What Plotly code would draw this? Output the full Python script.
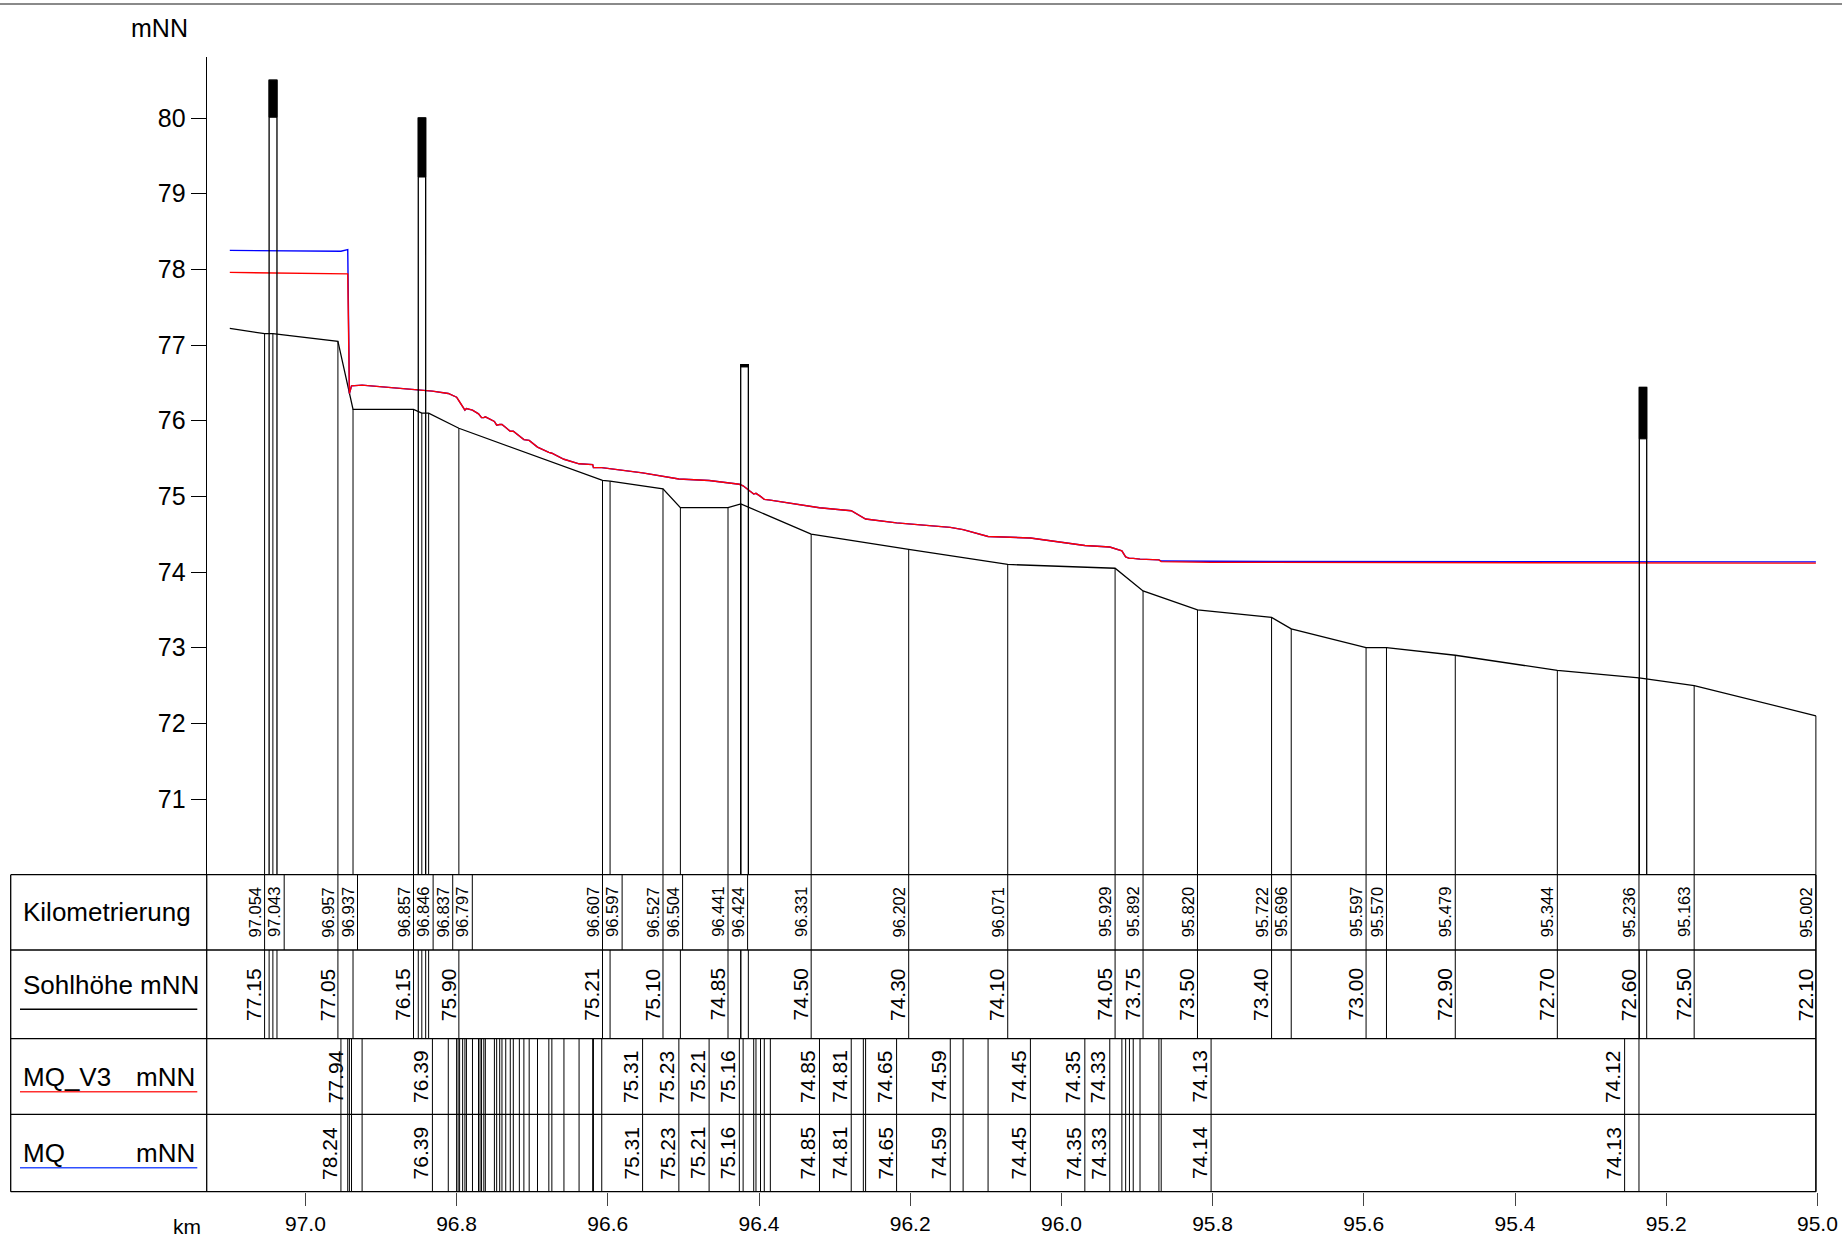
import plotly.graph_objects as go

W, H = 1842, 1240
FONT = "Arial, Liberation Sans, sans-serif"

# ---- cross-section stations: Kilometrierung / Sohlhöhe ----
station_km = [97.054, 97.043, 96.957, 96.937, 96.857, 96.846, 96.837, 96.797,
              96.607, 96.597, 96.527, 96.504, 96.441, 96.424, 96.331, 96.202,
              96.071, 95.929, 95.892, 95.820, 95.722, 95.696, 95.597, 95.570,
              95.479, 95.344, 95.236, 95.163, 95.002]
sohle = [77.15, 77.15, 77.05, 76.15, 76.15, 76.10, 76.10, 75.90,
         75.21, 75.20, 75.10, 74.85, 74.85, 74.90, 74.50, 74.30,
         74.10, 74.05, 73.75, 73.50, 73.40, 73.25, 73.00, 73.00,
         72.90, 72.70, 72.60, 72.50, 72.10]
# upstream start of the bed line (not tabulated)
sohle_start_km = 97.100
sohle_start = 77.22
# stations whose bed level is printed in the table
sohle_label_idx = [0, 2, 4, 7, 8, 10, 12, 14, 15, 16, 17, 18, 19, 20,
                   22, 24, 25, 26, 27, 28]

# ---- water surface profiles (computation points) ----
wsp_km = [97.100, 96.953, 96.944, 96.9418, 96.939, 96.925, 96.832, 96.811,
          96.800, 96.798, 96.796, 96.792, 96.789, 96.787, 96.779, 96.771,
          96.769, 96.767, 96.764, 96.762, 96.750, 96.747, 96.743, 96.740,
          96.735, 96.729, 96.725, 96.717, 96.711, 96.704, 96.693, 96.678,
          96.674, 96.658, 96.638, 96.620, 96.619, 96.608, 96.554, 96.506,
          96.466, 96.426, 96.421, 96.407, 96.404, 96.398, 96.393, 96.385,
          96.320, 96.278, 96.262, 96.259, 96.218, 96.147, 96.130, 96.097,
          96.041, 95.969, 95.936, 95.920, 95.915, 95.910, 95.905, 95.896,
          95.871, 95.868, 95.802, 95.255, 95.236, 95.002]
wsp_mq_v3 = [77.96, 77.95, 77.94, 76.36, 76.46, 76.47, 76.39, 76.36,
             76.31, 76.28, 76.25, 76.19, 76.14, 76.16, 76.14, 76.09,
             76.06, 76.04, 76.04, 76.05, 75.99, 75.94, 75.95, 75.95,
             75.91, 75.86, 75.86, 75.80, 75.75, 75.74, 75.65, 75.58,
             75.57, 75.49, 75.43, 75.42, 75.38, 75.38, 75.31, 75.23,
             75.21, 75.16, 75.14, 75.03, 75.04, 75.00, 74.96, 74.95,
             74.85, 74.81, 74.71, 74.70, 74.65, 74.59, 74.56, 74.47,
             74.45, 74.35, 74.33, 74.28, 74.20, 74.18, 74.18, 74.17,
             74.16, 74.138, 74.128, 74.117, 74.117, 74.117]
wsp_mq = [78.25, 78.24, 78.26, 76.36, 76.46, 76.47, 76.39, 76.36,
          76.31, 76.28, 76.25, 76.19, 76.14, 76.16, 76.14, 76.09,
          76.06, 76.04, 76.04, 76.05, 75.99, 75.94, 75.95, 75.95,
          75.91, 75.86, 75.86, 75.80, 75.75, 75.74, 75.65, 75.58,
          75.57, 75.49, 75.43, 75.42, 75.38, 75.38, 75.31, 75.23,
          75.21, 75.16, 75.14, 75.03, 75.04, 75.00, 74.96, 74.95,
          74.85, 74.81, 74.71, 74.70, 74.65, 74.59, 74.56, 74.47,
          74.45, 74.35, 74.33, 74.28, 74.20, 74.18, 74.18, 74.17,
          74.16, 74.145, 74.142, 74.134, 74.134, 74.134]
mq_v3_label_idx = [2, 6, 38, 39, 40, 41, 48, 49, 52, 53, 56, 57, 58, 66, 67]
mq_label_idx = [1, 6, 38, 39, 40, 41, 48, 49, 52, 53, 56, 57, 58, 66, 67]

# ---- bridges: extent and deck (Unterkante / Oberkante) ----
bridge_km_left = [97.048, 96.8507, 96.4242, 95.2356]
bridge_km_right = [97.0376, 96.8409, 96.4141, 95.2258]
bridge_deck_bottom = [80.01, 79.22, 76.71, 75.76]
bridge_deck_top = [80.50, 80.00, 76.74, 76.44]

# ---- axis ticks ----
km_ticks = [97.0, 96.8, 96.6, 96.4, 96.2, 96.0, 95.8, 95.6, 95.4, 95.2, 95.0]
elev_ticks = [71, 72, 73, 74, 75, 76, 77, 78, 79, 80]

# ---- sheet geometry (pixels) ----
PX_PER_KM = 756.0
KM_REF, KM_REF_PX = 97.0, 305.4
PX_PER_M = 75.67
ELEV_REF, ELEV_REF_PX = 80.0, 118.0
PLOT_TOP_PX = 57.0
ROW_EDGES_PX = [874.7, 950.0, 1038.7, 1114.3, 1191.7]
TABLE_LEFT_PX = 10.7
LABEL_COL_PX = 206.7
MIN_CELL_PX = 19.6


def km_at(px):
    return KM_REF - (px - KM_REF_PX) / PX_PER_KM


def elev_at(py):
    return ELEV_REF - (py - ELEV_REF_PX) / PX_PER_M


elev_bottom = elev_at(ROW_EDGES_PX[0])
elev_top = elev_at(PLOT_TOP_PX)
row_mid = [(a + b) / 2 for a, b in zip(ROW_EDGES_PX[:-1], ROW_EDGES_PX[1:])]


def vlines(xs, y0s, y1s):
    X, Y = [], []
    for x, a, b in zip(xs, y0s, y1s):
        X += [x, x, None]
        Y += [a, b, None]
    return X, Y


fig = go.Figure()
thin = dict(color="black", width=1)

# vertical lines from the bed down to the table at each station
sx, sy = vlines(station_km, sohle, [elev_bottom] * len(station_km))
fig.add_trace(go.Scatter(x=sx, y=sy, mode="lines", line=thin, hoverinfo="skip"))

# bed line
fig.add_trace(go.Scatter(x=[sohle_start_km] + station_km, y=[sohle_start] + sohle,
                         mode="lines", line=dict(color="black", width=1.3)))

# water surface profiles
fig.add_trace(go.Scatter(x=wsp_km, y=wsp_mq, mode="lines",
                         line=dict(color="#0000ff", width=1.4)))
fig.add_trace(go.Scatter(x=wsp_km, y=wsp_mq_v3, mode="lines",
                         line=dict(color="#ff0000", width=1.4)))

# bridges: outline down to the table plus black deck
shapes = []
for kl, kr, db, dt in zip(bridge_km_left, bridge_km_right, bridge_deck_bottom, bridge_deck_top):
    shapes.append(dict(type="rect", xref="x", yref="y", x0=kl, x1=kr, y0=elev_bottom, y1=dt,
                       line=dict(color="black", width=1.3), fillcolor="rgba(0,0,0,0)"))
    shapes.append(dict(type="rect", xref="x", yref="y", x0=kl, x1=kr, y0=db, y1=dt,
                       line=dict(color="black", width=1), fillcolor="black"))

# ---- table (on y2, pixel rows) ----
t_left = km_at(TABLE_LEFT_PX)
t_label = km_at(LABEL_COL_PX)
t_right = station_km[-1]
gx, gy = [], []
for yy in ROW_EDGES_PX:
    gx += [t_left, t_right, None]
    gy += [yy, yy, None]
for xx in (t_left, t_label, t_right):
    gx += [xx, xx, None]
    gy += [ROW_EDGES_PX[0], ROW_EDGES_PX[-1], None]
fig.add_trace(go.Scatter(x=gx, y=gy, mode="lines", line=dict(color="black", width=1.3),
                         xaxis="x", yaxis="y2"))

# Kilometrierung cells: spread out where stations are closer than a label
gap_km = MIN_CELL_PX / PX_PER_KM
km_cells = []
for k in station_km:
    km_cells.append(k if not km_cells else min(k, km_cells[-1] - gap_km))
r0, r1, r2, r3, r4 = ROW_EDGES_PX
cx, cy = vlines(km_cells, [r0] * len(km_cells), [r1] * len(km_cells))
fig.add_trace(go.Scatter(x=cx, y=cy, mode="lines", line=thin, xaxis="x", yaxis="y2"))

# Sohlhöhe row: stations and bridge edges
sohle_row_km = station_km + bridge_km_left + bridge_km_right
hx, hy = vlines(sohle_row_km, [r1] * len(sohle_row_km), [r2] * len(sohle_row_km))
fig.add_trace(go.Scatter(x=hx, y=hy, mode="lines", line=thin, xaxis="x", yaxis="y2"))

# water level rows: one line per computation point
pts = wsp_km[1:]
wx, wy = vlines(pts + pts, [r2] * len(pts) + [r3] * len(pts), [r3] * len(pts) + [r4] * len(pts))
fig.add_trace(go.Scatter(x=wx, y=wy, mode="lines", line=thin, xaxis="x", yaxis="y2"))

ann = []


def cell_label(x, y, text, size, shift):
    ann.append(dict(x=x, y=y, xref="x", yref="y2", text=text, textangle=-90,
                    showarrow=False, xanchor="center", yanchor="middle", xshift=shift,
                    font=dict(family=FONT, size=size, color="black")))


for k, kc in zip(station_km, km_cells):
    cell_label(kc, row_mid[0], f"{k:.3f}", 16.5, -9.5)
for i in sohle_label_idx:
    cell_label(station_km[i], row_mid[1], f"{sohle[i]:.2f}", 21, -11)
for i in mq_v3_label_idx:
    cell_label(wsp_km[i], row_mid[2], f"{wsp_mq_v3[i]:.2f}", 21, -12)
for i in mq_label_idx:
    cell_label(wsp_km[i], row_mid[3], f"{wsp_mq[i]:.2f}", 21, -12)


def side_text(px, py, text, anchor, size=26):
    ann.append(dict(x=px / W, y=py, xref="paper", yref="y2", text=text, showarrow=False,
                    xanchor=anchor, yanchor="middle",
                    font=dict(family=FONT, size=size, color="black")))


side_text(20.7, row_mid[0], "Kilometrierung", "left")
side_text(20.7, 985, "Sohlhöhe mNN", "left")
side_text(20.7, 1076.7, "MQ_V3", "left")
side_text(196.5, 1076.7, "mNN", "right")
side_text(20.7, 1153.3, "MQ", "left")
side_text(196.5, 1153.3, "mNN", "right")
side_text(189.5, 28, "mNN", "right", 25)
side_text(203, 1226.7, "km", "right", 21)

# legend underlines below the row titles
for py, col in ((1009.3, "black"), (1091.7, "#ff3030"), (1167.7, "#3050ff")):
    shapes.append(dict(type="line", xref="paper", yref="y2", x0=20 / W, x1=197.3 / W,
                       y0=py, y1=py, line=dict(color=col, width=1.5)))
# sheet border line at the top
shapes.append(dict(type="line", xref="paper", yref="y2", x0=0, x1=1, y0=4, y1=4,
                   line=dict(color="#8a8a8a", width=2)))

fig.update_layout(
    width=W, height=H, autosize=False,
    margin=dict(l=0, r=0, t=0, b=0, pad=0),
    paper_bgcolor="white", plot_bgcolor="rgba(0,0,0,0)",
    showlegend=False,
    shapes=shapes, annotations=ann,
    xaxis=dict(range=[km_at(0), km_at(W)], domain=[0, 1], anchor="free",
               position=1 - ROW_EDGES_PX[-1] / H,
               tickvals=km_ticks, ticktext=[f"{v:.1f}" for v in km_ticks],
               ticks="outside", ticklen=13, tickwidth=1.2, tickcolor="#444",
               tickfont=dict(family=FONT, size=21, color="black"),
               showline=False, showgrid=False, zeroline=False),
    yaxis=dict(range=[elev_bottom, elev_top],
               domain=[1 - ROW_EDGES_PX[0] / H, 1 - PLOT_TOP_PX / H],
               anchor="free", position=(LABEL_COL_PX - 1) / W, side="left",
               tickvals=elev_ticks, ticktext=[str(v) for v in elev_ticks],
               ticks="outside", ticklen=15, tickwidth=1.3, tickcolor="black",
               tickfont=dict(family=FONT, size=25, color="black"),
               showline=True, linecolor="black", linewidth=1.3,
               showgrid=False, zeroline=False),
    yaxis2=dict(range=[H, 0], domain=[0, 1], anchor="x", visible=False,
                showgrid=False, zeroline=False),
)

fig.write_html("out.html")
